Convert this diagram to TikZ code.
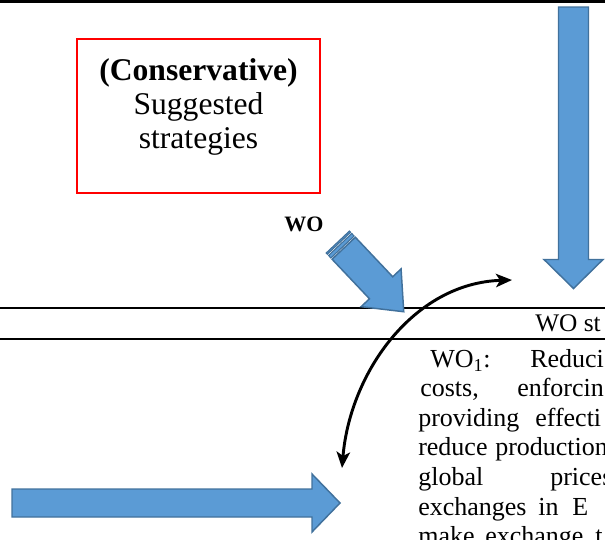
\documentclass[tikz,border=0pt]{standalone}
\usepackage{fontspec}
\setmainfont{Liberation Serif}
\usetikzlibrary{arrows.meta}
\definecolor{blockfill}{HTML}{5B9BD5}
\definecolor{blockdraw}{HTML}{41719C}
\tikzset{
  blockarrow/.style={fill=blockfill, draw=blockdraw, line width=1.1pt, line join=miter},
  rule/.style={draw=black, line width=1.5pt},
  bodytext/.style={anchor=base west, inner sep=0pt, font=\fontsize{19.5pt}{23pt}\selectfont},
  boxtext/.style={anchor=base, inner sep=0pt, font=\fontsize{23.7pt}{28pt}\selectfont},
  curvearrow/.style={line width=2.2pt, {Stealth[length=12pt,width=10pt,inset=3pt]}-{Stealth[length=12pt,width=10pt,inset=3pt]}}
}
\begin{document}
\begin{tikzpicture}[x=0.75pt,y=-0.75pt]
\useasboundingbox (0,0) rectangle (605,539);
\clip (0,0) rectangle (605,539);
% top rule
\draw[black, line width=2pt] (0,1.3) -- (605,1.3);
% table rules
\draw[rule] (0,307.5) -- (605,307.5);
\draw[rule] (0,338.5) -- (605,338.5);
% red box
\node[draw=red, line width=1.5pt, minimum width=182.3pt, minimum height=115pt, inner sep=0pt] (box) at (198.6,116) {};
\node[boxtext, font=\fontsize{23.7pt}{28pt}\selectfont\bfseries] (boxl1) at (198.5,80) {(Conservative)};
\node[boxtext] (boxl2) at (198.5,114) {Suggested};
\node[boxtext] (boxl3) at (198.5,148) {strategies};
% vertical block arrow
\draw[blockarrow] (558.5,7) -- (588.5,7) -- (588.5,259.5) -- (603,259.5) -- (573.5,288.5) -- (544,259.5) -- (558.5,259.5) -- cycle;
% horizontal block arrow
\draw[blockarrow] (12,489) -- (312,489) -- (312,474) -- (340,503) -- (312,532) -- (312,517) -- (12,517) -- cycle;
% striped diagonal arrow
\begin{scope}[shift={(337.8,242)}, rotate=-46.6]
  \draw[blockarrow, line width=0.8pt] (0,-16) rectangle (1.7,16);
  \draw[blockarrow, line width=0.8pt] (3.4,-16) rectangle (6.9,16);
  \draw[blockarrow] (8.6,-16) -- (63,-16) -- (63,-27.5) -- (96,0) -- (63,27.5) -- (63,16) -- (8.6,16) -- cycle;
\end{scope}
% WO label
\node[anchor=base west, inner sep=0pt, font=\fontsize{16.5pt}{19pt}\selectfont\bfseries] (wolabel) at (284,231.7) {WO};
% band text
\node[anchor=base west, inner sep=0pt, font=\fontsize{19pt}{22pt}\selectfont] (band) at (535,331) {WO st};
% curved double arrow
\coordinate (ctop) at (512,280);
\coordinate (cbot) at (342,468);
\draw[curvearrow] (cbot) .. controls (350,372) and (414,283) .. (ctop);
% body text
\node[bodytext] (r1a) at (430,367) {WO\textsubscript{1}:};
\node[bodytext] (r1b) at (530,367) {Reduci};
\node[bodytext] (r2a) at (420,396.6) {costs,};
\node[bodytext] (r2b) at (517,396.6) {enforcin};
\node[bodytext] (r3a) at (418,426.2) {providing};
\node[bodytext] (r3b) at (535,426.2) {effecti};
\node[bodytext] (r4a) at (418,455.8) {reduce};
\node[bodytext] (r4b) at (495,455.8) {production};
\node[bodytext] (r5a) at (418,485.4) {global};
\node[bodytext] (r5b) at (550,485.4) {prices};
\node[bodytext] (r6a) at (418,515) {exchanges};
\node[bodytext] (r6b) at (538,515) {in};
\node[bodytext] (r6c) at (572,515) {E};
\node[bodytext] (r7a) at (418,544.6) {make};
\node[bodytext] (r7b) at (485,544.6) {exchange};
\node[bodytext] (r7c) at (595,544.6) {t};
\end{tikzpicture}
\end{document}
